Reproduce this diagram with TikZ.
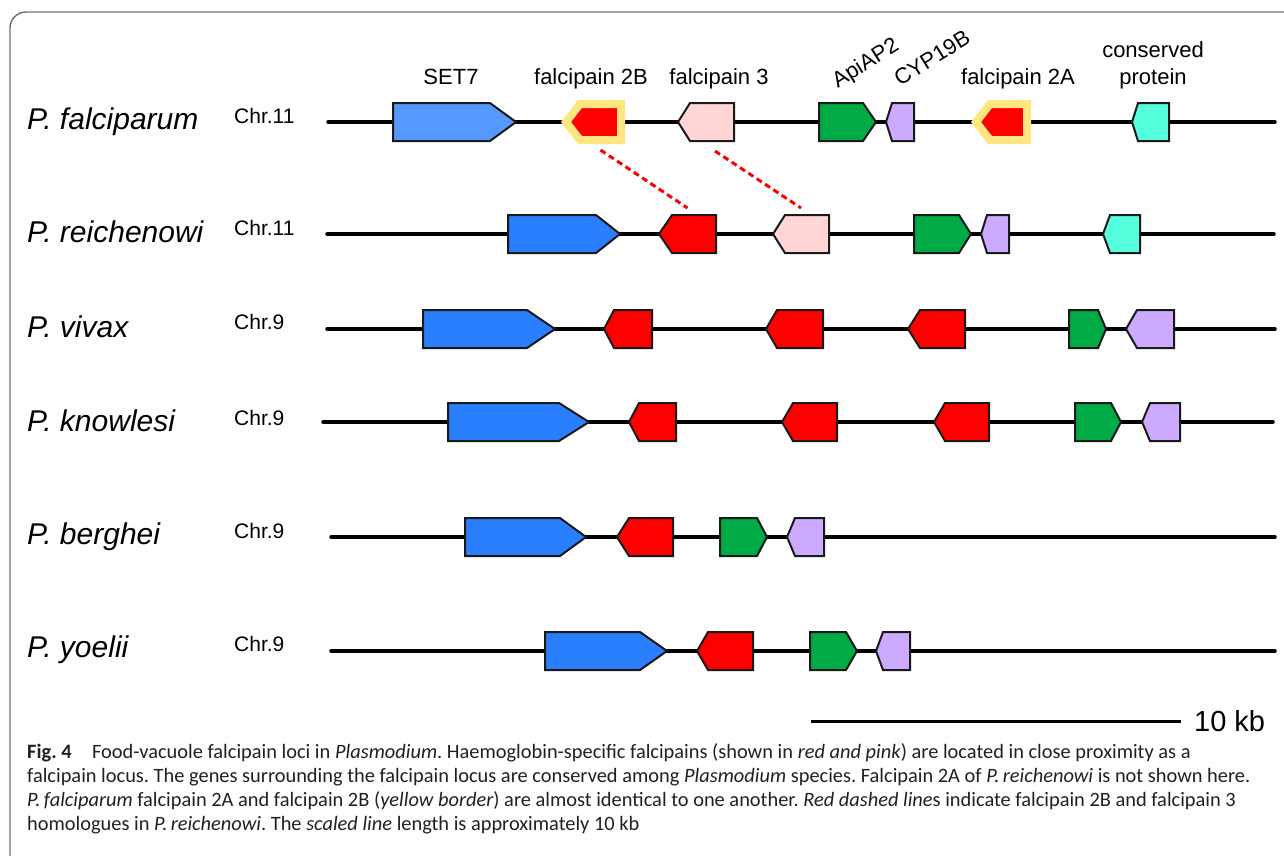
\documentclass[tikz,border=0pt]{standalone}
\usepackage{fontspec}
\setmainfont{Liberation Sans}
\newfontfamily\capfont{Carlito}
\usetikzlibrary{calc}
\frenchspacing

\definecolor{setblue}{HTML}{2A7FFF}
\definecolor{setbluelight}{HTML}{5599FF}
\definecolor{fpred}{HTML}{FF0000}
\definecolor{fppink}{HTML}{FFD5D5}
\definecolor{apigreen}{HTML}{00AA44}
\definecolor{cyplav}{HTML}{CCAAFF}
\definecolor{cpcyan}{HTML}{55FFDD}
\definecolor{hlyellow}{HTML}{FFE680}
\definecolor{framegray}{HTML}{707070}
\definecolor{captext}{HTML}{231F20}

\tikzset{
  chrom/.style={line width=3.5pt, black, line cap=round},
  gene/.style={line width=2pt, draw=black!90},
  hlgene/.style={line width=8pt, draw=hlyellow, fill=fpred, line join=miter},
  homolog/.style={line width=3pt, fpred, dash pattern=on 6pt off 4pt},
  genelabel/.style={font=\fontsize{22}{26}\selectfont, anchor=base, inner sep=0pt},
  species/.style={font=\fontsize{30}{35}\selectfont\itshape, anchor=base west, inner sep=0pt},
  chrlabel/.style={font=\fontsize{21}{25}\selectfont, anchor=base west, inner sep=0pt},
  caption/.style={font=\capfont\fontsize{20.4}{24}\selectfont, text=captext, anchor=base west, inner sep=0pt},
}

% right-pointing gene: name, left, slant start, tip, y, fill
\newcommand\geneR[6]{%
  \draw[gene,fill=#6] (#2,#5-19) -- (#3,#5-19) -- (#4,#5) -- (#3,#5+19) -- (#2,#5+19) -- cycle;
  \coordinate (#1-t) at ({(#2+#4)/2},#5-19);
  \coordinate (#1-b) at ({(#2+#4)/2},#5+19);
}
% left-pointing gene: name, tip, slant end, right, y, fill
\newcommand\geneL[6]{%
  \draw[gene,fill=#6] (#2,#5) -- (#3,#5-19) -- (#4,#5-19) -- (#4,#5+19) -- (#3,#5+19) -- cycle;
  \coordinate (#1-t) at ({(#2+#4)/2},#5-19);
  \coordinate (#1-b) at ({(#2+#4)/2},#5+19);
}
% left-pointing falcipain 2 copy with yellow border: name, tip, slant end, right, y
\newcommand\geneLhl[5]{%
  \draw[hlgene] (#2,#5) -- (#3,#5-18) -- (#4,#5-18) -- (#4,#5+18) -- (#3,#5+18) -- cycle;
  \coordinate (#1-t) at ({(#2+#4)/2},#5-18);
  \coordinate (#1-b) at ({(#2+#4)/2},#5+18);
}

\begin{document}
\begin{tikzpicture}[x=1pt,y=-1pt]
\useasboundingbox (0,0) rectangle (1284,855);
\clip (0,0) rectangle (1284,855);

% panel frame
\draw[framegray, line width=1.4pt, rounded corners=16pt] (10,900) -- (10,12) -- (1320,12);

% species and chromosome labels
\node[species] (n-pf) at (27,129) {P. falciparum};
\node[species] (n-pr) at (27,242) {P. reichenowi};
\node[species] (n-pv) at (27,337) {P. vivax};
\node[species] (n-pk) at (27,431) {P. knowlesi};
\node[species] (n-pb) at (27,544) {P. berghei};
\node[species] (n-py) at (27,657) {P. yoelii};

\node[chrlabel] (c-pf) at (234,123) {Chr.11};
\node[chrlabel] (c-pr) at (234,235) {Chr.11};
\node[chrlabel] (c-pv) at (234,329) {Chr.9};
\node[chrlabel] (c-pk) at (234,425) {Chr.9};
\node[chrlabel] (c-pb) at (234,538) {Chr.9};
\node[chrlabel] (c-py) at (234,651) {Chr.9};

% chromosome backbones
\coordinate (pf-l) at (328,122); \coordinate (pf-r) at (1275,122);
\coordinate (pr-l) at (327,234); \coordinate (pr-r) at (1274,234);
\coordinate (pv-l) at (327,329); \coordinate (pv-r) at (1275,329);
\coordinate (pk-l) at (323,422); \coordinate (pk-r) at (1273,422);
\coordinate (pb-l) at (331,537); \coordinate (pb-r) at (1275,537);
\coordinate (py-l) at (331,651); \coordinate (py-r) at (1275,651);
\foreach \s in {pf,pr,pv,pk,pb,py} \draw[chrom] (\s-l) -- (\s-r);

% P. falciparum
\geneR{pf-set7}{393}{490}{516}{122}{setbluelight}
\geneLhl{pf-fp2b}{566}{580}{621}{122}
\geneL{pf-fp3}{678}{690}{734}{122}{fppink}
\geneR{pf-api}{819}{863}{876}{122}{apigreen}
\geneL{pf-cyp}{886}{892}{914}{122}{cyplav}
\geneLhl{pf-fp2a}{976}{990}{1027}{122}
\geneL{pf-cp}{1132}{1138}{1169}{122}{cpcyan}

% P. reichenowi
\geneR{pr-set7}{508}{596}{620}{234}{setblue}
\geneL{pr-fp2b}{659}{672}{716}{234}{fpred}
\geneL{pr-fp3}{773}{785}{829}{234}{fppink}
\geneR{pr-api}{914}{959}{971}{234}{apigreen}
\geneL{pr-cyp}{981}{987}{1009}{234}{cyplav}
\geneL{pr-cp}{1103}{1110}{1140}{234}{cpcyan}

% P. vivax
\geneR{pv-set7}{423}{527}{555}{329}{setblue}
\geneL{pv-fp1}{604}{614}{652}{329}{fpred}
\geneL{pv-fp2}{766}{777}{823}{329}{fpred}
\geneL{pv-fp3}{908}{920}{965}{329}{fpred}
\geneR{pv-api}{1069}{1098}{1106}{329}{apigreen}
\geneL{pv-cyp}{1126}{1137}{1174}{329}{cyplav}

% P. knowlesi
\geneR{pk-set7}{448}{559}{589}{422}{setblue}
\geneL{pk-fp1}{629}{639}{676}{422}{fpred}
\geneL{pk-fp2}{782}{793}{837}{422}{fpred}
\geneL{pk-fp3}{934}{945}{989}{422}{fpred}
\geneR{pk-api}{1075}{1111}{1121}{422}{apigreen}
\geneL{pk-cyp}{1142}{1150}{1180}{422}{cyplav}

% P. berghei
\geneR{pb-set7}{465}{560}{586}{537}{setblue}
\geneL{pb-fp}{617}{629}{673}{537}{fpred}
\geneR{pb-api}{720}{757}{767}{537}{apigreen}
\geneL{pb-cyp}{787}{795}{824}{537}{cyplav}

% P. yoelii
\geneR{py-set7}{545}{640}{667}{651}{setblue}
\geneL{py-fp}{697}{708}{753}{651}{fpred}
\geneR{py-api}{810}{846}{857}{651}{apigreen}
\geneL{py-cyp}{876}{883}{910}{651}{cyplav}

% homologue links
\draw[homolog] ($(pf-fp2b-b)+(7,10)$) -- ($(pr-fp2b-t)+(0,-7)$);
\draw[homolog] ($(pf-fp3-b)+(9,10)$) -- ($(pr-fp3-t)+(0,-7)$);

% gene names
\node[genelabel] (l-set7) at (451,84) {SET7};
\node[genelabel] (l-fp2b) at (591,84) {falcipain 2B};
\node[genelabel] (l-fp3) at (719,84) {falcipain 3};
\node[genelabel] (l-fp2a) at (1018,84) {falcipain 2A};
\node[genelabel] (l-cp1) at (1153,57) {conserved};
\node[genelabel] (l-cp2) at (1153,84) {protein};
\node[genelabel, anchor=center, rotate=32] (l-api) at (866,64) {ApiAP2};
\node[genelabel, anchor=center, rotate=32] (l-cyp) at (932,58) {CYP19B};

% scale bar
\coordinate (sb-l) at (811,721); \coordinate (sb-r) at (1181,721);
\draw[line width=3pt, black] (sb-l) -- (sb-r);
\node[font=\fontsize{29}{34}\selectfont, anchor=base west, inner sep=0pt] (sb-t) at (1194,731) {10 kb};

% legend text
\node[caption] (cap1) at (27,758) {\textbf{Fig. 4}\hspace{1em}Food-vacuole falcipain loci in \textit{Plasmodium}. Haemoglobin-specific falcipains (shown in \textit{red and pink}) are located in close proximity as a};
\node[caption] (cap2) at (27,782) {falcipain locus. The genes surrounding the falcipain locus are conserved among \textit{Plasmodium} species. Falcipain 2A of \textit{P.\,reichenowi} is not shown here.};
\node[caption] (cap3) at (27,806) {\textit{P.\,falciparum} falcipain 2A and falcipain 2B (\textit{yellow border}) are almost identical to one another. \textit{Red dashed line}s indicate falcipain 2B and falcipain 3};
\node[caption] (cap4) at (27,830) {homologues in \textit{P.\,reichenowi}. The \textit{scaled line} length is approximately 10 kb};
\end{tikzpicture}
\end{document}
